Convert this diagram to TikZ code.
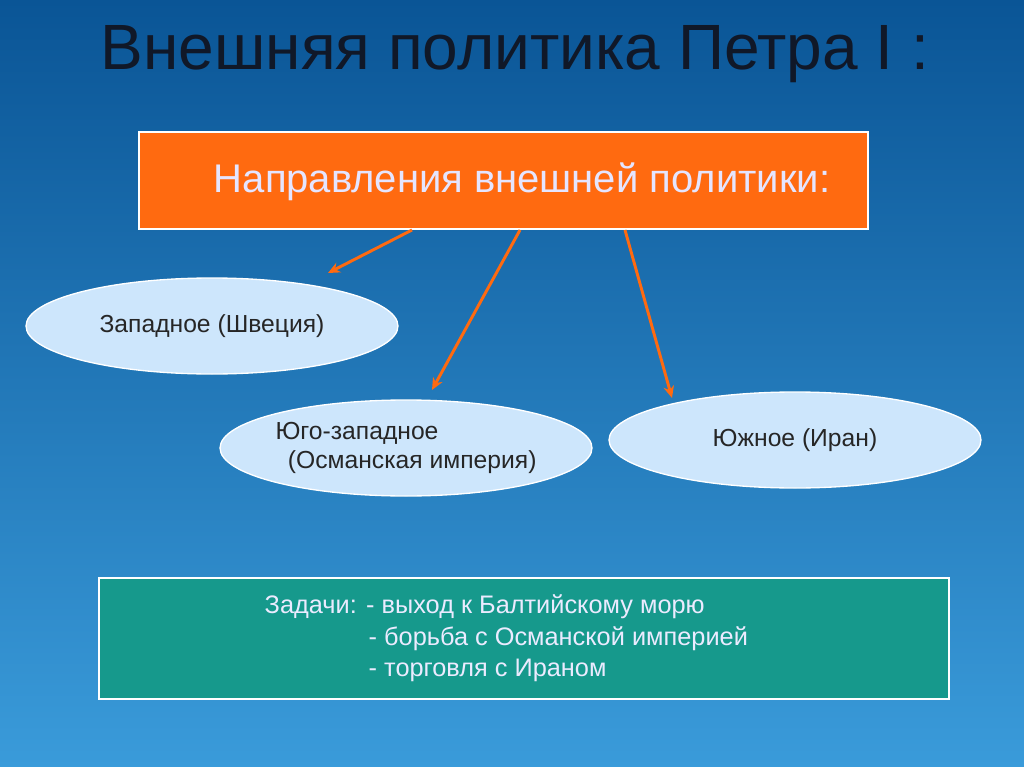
\documentclass[tikz,border=0pt]{standalone}
\usepackage{fontspec}
\setmainfont{Liberation Sans}
\definecolor{bgtop}{HTML}{0A5596}
\definecolor{bgbot}{HTML}{3A9BDA}
\definecolor{orng}{HTML}{FF6A10}
\definecolor{ell}{HTML}{CDE6FC}
\definecolor{teal}{HTML}{16998C}
\definecolor{ttl}{HTML}{101828}
\usetikzlibrary{shapes.geometric,arrows.meta}
\newlength{\pu}\setlength{\pu}{0.75pt}
\tikzset{
  ov/.style={ellipse,draw=white,line width=1pt,fill=ell,minimum width=372\pu,minimum height=96\pu,inner sep=0pt},
  ovt/.style={font=\fontsize{18.5}{22}\selectfont,text=black!85,align=left},
  arr/.style={draw=orng,line width=2.2pt,-{Stealth[length=9pt,width=8pt]}}
}
\begin{document}
\begin{tikzpicture}[x=0.75pt,y=-0.75pt]
\shade[top color=bgtop,bottom color=bgbot] (0,0) rectangle (1024,767);
\useasboundingbox (0,0) rectangle (1024,767);
\node[text=ttl,font=\fontsize{48}{54}\selectfont] (title) at (515,54) {Внешняя политика Петра I :};
\node[draw=white,line width=1pt,fill=orng,minimum width=729\pu,minimum height=97\pu] (dir) at (503.5,180.5) {};
\node[text=white!90!blue,font=\fontsize{30}{34}\selectfont] (dirt) at (522,182) {Направления внешней политики:};
\node[ov] (w) at (212,326) {};
\node[ov] (sw) at (406,448) {};
\node[ov] (s) at (795,440) {};
\node[ovt] (wt) at (w.center) {Западное (Швеция)};
\node[ovt] (swt) at (sw.center) {Юго-западное\\\hspace*{0.5em}(Османская империя)};
\node[ovt] (st) at (s.center) {Южное (Иран)};
\coordinate (a1) at (412,230); \coordinate (a2) at (520,230); \coordinate (a3) at (625,230);
\draw[arr] (a1) -- (328,273);
\draw[arr] (a2) -- (432,390);
\draw[arr] (a3) -- (672,398);
\node[draw=white,line width=1pt,fill=teal,minimum width=850\pu,minimum height=121\pu] (task) at (524,638.5) {};
\begin{scope}[font=\fontsize{19}{22}\selectfont,text=white!92!blue]
\node[anchor=west] (t1) at (260,607) {Задачи: - выход к Балтийскому морю};
\node[anchor=west] (t2) at (364,639) {- борьба с Османской империей};
\node[anchor=west] (t3) at (364,670) {- торговля с Ираном};
\end{scope}
\end{tikzpicture}
\end{document}
